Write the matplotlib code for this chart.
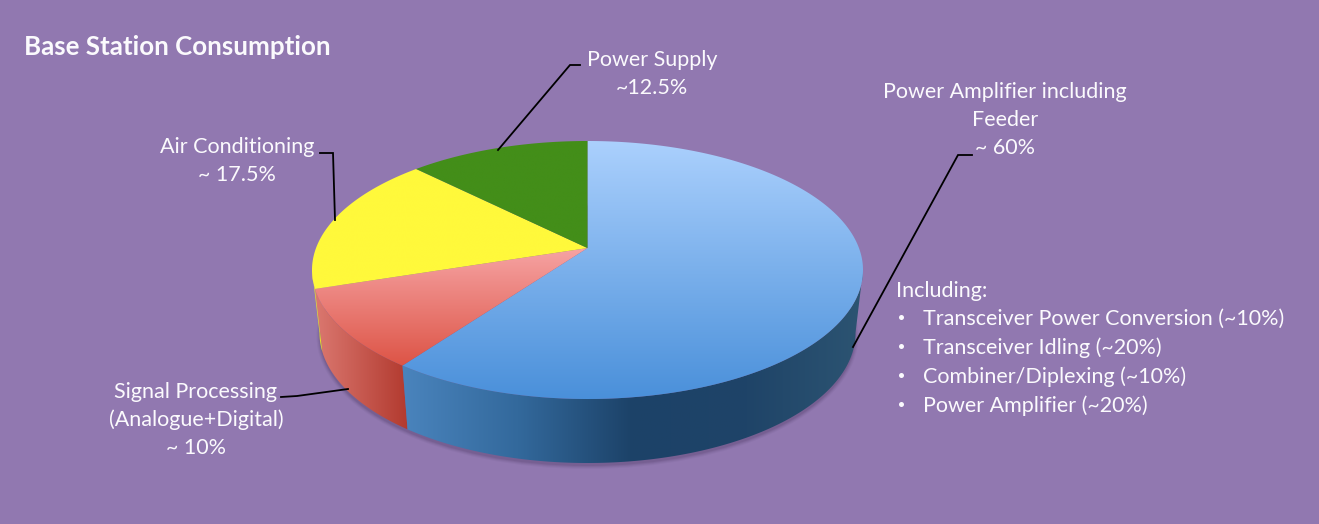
import numpy as np
import matplotlib
matplotlib.use("Agg")
import matplotlib.pyplot as plt
from matplotlib.colors import LinearSegmentedColormap as LSC
from matplotlib.patches import Polygon, Ellipse

# ---- data ----
slice_names = ["Power Amplifier including Feeder", "Signal Processing", "Air Conditioning", "Power Supply"]
slice_shares = [60.0, 10.0, 17.5, 12.5]
title_text = "Base Station Consumption"
breakdown_heading = "Including:"
breakdown_items = ["Transceiver Power Conversion (~10%)", "Transceiver Idling (~20%)",
                   "Combiner/Diplexing (~10%)", "Power Amplifier (~20%)"]

# ---- style ----
BG = "#9178B0"
TOP_COLS = [("#ABD0FD", "#4A90DA"), ("#F6A3A3", "#DD5446"), ("#FFF93B", "#FFF93B"), ("#438E19", "#438E19")]
SIDE_COLS = [["#4A84BD", "#33699C", "#1C4268", "#1F4468", "#2C5472"],
             ["#DB7870", "#B23A2F"], ["#E8DC30", "#E8DC30"], ["#2F6A12", "#2F6A12"]]
W, H = 1319, 524
CX, TOP_CY, TOP_RX, TOP_RY = 587.5, 270.0, 275.5, 129.0
BOT_CY, BOT_RX, BOT_RY = 333.0, 268.0, 130.0
TILT = 0.17  # perspective shift of the pie centre

plt.rcParams["font.family"] = ["Lato", "DejaVu Sans"]
fig = plt.figure(figsize=(W / 100, H / 100), dpi=100, facecolor=BG)
ax = fig.add_axes([0, 0, 1, 1])
ax.set_facecolor(BG)


def persp(t):
    s, c = np.sin(t), np.cos(t)
    d = 1 + TILT * c
    return s * np.sqrt(1 - TILT ** 2) / d, (c + TILT) / d


def rim(t, cy, rx, ry):
    u, v = persp(t)
    return np.column_stack([CX + rx * u, cy - ry * v])


def grad_fill(path_xy, cols, vertical, z):
    cmap = LSC.from_list("g", cols)
    xs, ys = path_xy[:, 0], path_xy[:, 1]
    x0, x1, y0, y1 = xs.min(), xs.max(), ys.min(), ys.max()
    g = np.linspace(0, 1, 256)
    arr = g[:, None] if vertical else g[None, :]
    im = ax.imshow(arr, cmap=cmap, extent=[x0, x1, y1, y0], aspect="auto", zorder=z,
                   vmin=0, vmax=1, interpolation="bilinear")
    poly = Polygon(path_xy, closed=True, transform=ax.transData, fc="none", ec="none")
    ax.add_patch(poly)
    im.set_clip_path(poly)


# soft shadow under the pie
for i, a in enumerate([0.05, 0.07, 0.09, 0.12]):
    grow = 3 - i
    ax.add_patch(Ellipse((CX, BOT_CY + 3), 2 * (BOT_RX + grow), 2 * (BOT_RY + grow),
                         fc="#3A2A50", ec="none", alpha=a, zorder=1))

edges = np.radians(np.concatenate([[0], np.cumsum(slice_shares)]) * 360 / sum(slice_shares))
t_right = np.arccos(-TILT)
t_left = 2 * np.pi - t_right
apex = np.array([[CX, TOP_CY - TOP_RY * TILT]])

# side walls
for k in range(len(slice_shares)):
    a, b = max(edges[k], t_right), min(edges[k + 1], t_left)
    if b <= a:
        continue
    t = np.linspace(a, b, 200)
    wall = np.vstack([rim(t, TOP_CY, TOP_RX, TOP_RY), rim(t[::-1], BOT_CY, BOT_RX, BOT_RY)])
    grad_fill(wall, SIDE_COLS[k], False, 3 + (0.1 if k == 0 else 0))

# top faces
for k in range(len(slice_shares)):
    t = np.linspace(edges[k], edges[k + 1], 300)
    top = np.vstack([apex, rim(t, TOP_CY, TOP_RX, TOP_RY)])
    grad_fill(top, list(TOP_COLS[k]), True, 4)

# leader lines
leaders = [[(580, 65), (570, 65), (498, 150)],
           [(320, 153), (333, 153), (335, 220)],
           [(972, 155), (958, 155), (853, 347)],
           [(281, 397), (297, 396), (348, 389)]]
for ln in leaders:
    xs, ys = zip(*ln)
    ax.plot(xs, ys, color="#000000", lw=1.3, zorder=5, solid_joinstyle="miter")

# text
TC = "#FBFAFD"
FS = 15.5
ax.text(24, 47, title_text, fontsize=18.6, fontweight="bold", color=TC, ha="left", va="center")
labels = [(652, 60, "Power Supply"), (652, 88, "~12.5%"),
          (1005, 92, "Power Amplifier including"), (1005, 120, "Feeder"), (1005, 148, "~ 60%"),
          (237, 147, "Air Conditioning"), (237, 175, "~ 17.5%"),
          (196, 392, "Signal Processing"), (196, 420, "(Analogue+Digital)"), (196, 448, "~ 10%")]
for x, y, s in labels:
    ax.text(x, y, s, fontsize=FS, color=TC, ha="center", va="center")
ax.text(896, 291, breakdown_heading, fontsize=FS, color=TC, ha="left", va="center")
for y, s in zip([319, 348, 377, 406], breakdown_items):
    ax.text(923, y, s, fontsize=FS, color=TC, ha="left", va="center")
    ax.plot([901], [y - 2], "o", ms=3.6, color=TC, mec="none")

ax.set_xlim(0, W)
ax.set_ylim(H, 0)
ax.axis("off")
fig.savefig("out.png", dpi=100, facecolor=BG)
